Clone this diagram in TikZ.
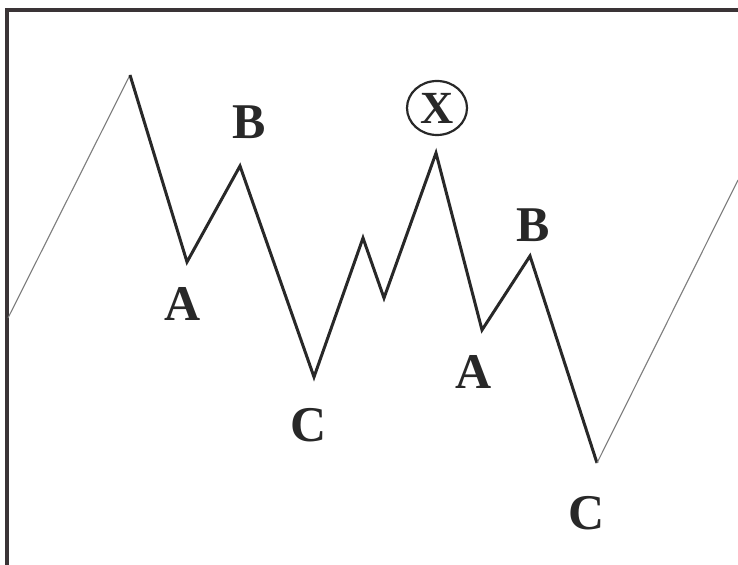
\documentclass[tikz,border=0pt]{standalone}
\usepackage{fontspec}
\setmainfont{Liberation Serif}
\definecolor{frame_color}{RGB}{58,52,54}
\definecolor{wave_color}{RGB}{40,40,40}
\definecolor{leg_color}{RGB}{125,125,125}
\tikzset{
  frame/.style={draw=frame_color, line width=1.6pt},
  wave/.style={wave_color, line width=1.5pt, line join=miter},
  legline/.style={leg_color, line width=0.55pt},
  wavelabel/.style={
    font=\fontsize{25}{25}\selectfont\bfseries, text=wave_color, inner sep=0pt
  },
  xlabel/.style={
    draw=wave_color, line width=1.1pt, ellipse, minimum width=30pt,
    minimum height=27pt, inner sep=0pt,
    font=\fontsize{23}{23}\selectfont\bfseries, text=wave_color
  }
}
\usetikzlibrary{shapes.geometric}
\begin{document}
\begin{tikzpicture}[x=0.5pt, y=-0.5pt]
\useasboundingbox (0,0) rectangle (738,565);
\begin{scope}
\clip (0,0) rectangle (738,565);
\draw[frame] (7,10) rectangle (760,600);
\end{scope}

% wave points
\coordinate (start) at (8,318);
\coordinate (top) at (130,75);
\coordinate (a1) at (187,262);
\coordinate (b1) at (240,166);
\coordinate (c1) at (314,377);
\coordinate (up1) at (363,238);
\coordinate (dn1) at (384,298);
\coordinate (x) at (436,153);
\coordinate (a2) at (482,330);
\coordinate (b2) at (530,256);
\coordinate (c2) at (597,463);
\coordinate (finish) at (738,180);

\draw[legline] (start) -- (top);
\draw[wave] (top) -- (a1) -- (b1) -- (c1) -- (up1) -- (dn1) -- (x) -- (a2) -- (b2) -- (c2);
\draw[legline] (c2) -- (finish);

% labels
\node[wavelabel] (lab_a1) at (183,304) {A};
\node[wavelabel] (lab_b1) at (249,122) {B};
\node[wavelabel] (lab_c1) at (309,425) {C};
\node[xlabel] (lab_x) at (437,108) {X};
\node[wavelabel] (lab_a2) at (474,372) {A};
\node[wavelabel] (lab_b2) at (533,225) {B};
\node[wavelabel] (lab_c2) at (587,513) {C};
\end{tikzpicture}
\end{document}
